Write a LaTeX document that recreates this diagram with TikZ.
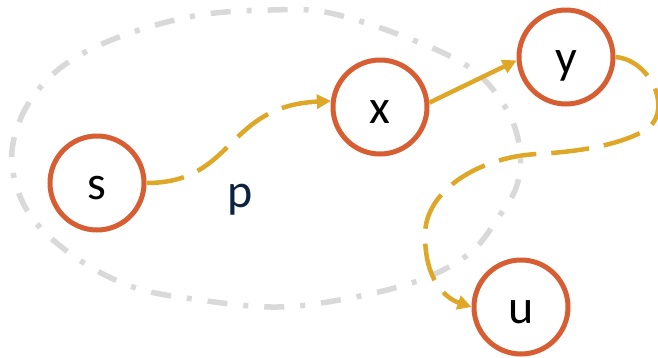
\documentclass[tikz,border=0pt]{standalone}
\usepackage{fontspec}
\setmainfont{Carlito}
\usetikzlibrary{arrows.meta}
\definecolor{vertexorange}{RGB}{214,94,50}
\definecolor{pathgold}{RGB}{222,167,40}
\definecolor{regiongray}{RGB}{217,217,217}
\definecolor{labelnavy}{RGB}{12,35,64}
\tikzset{
  vertex/.style={circle, draw=vertexorange, line width=5pt, fill=white,
    minimum size=94pt, inner sep=0pt, text height=32pt, text depth=0pt,
    font=\fontsize{48}{50}\selectfont},
  goldtip/.style={-{Triangle[length=14pt,width=14pt]}},
  pathsolid/.style={draw=pathgold, line width=4.5pt, goldtip},
  pathdashed/.style={draw=pathgold, line width=4.5pt, goldtip,
    dash pattern=on 38pt off 15pt},
  regionline/.style={draw=regiongray, line width=5.5pt,
    dash pattern=on 20pt off 16pt on 5pt off 16pt},
  pathlabel/.style={text=labelnavy, font=\fontsize{48}{50}\selectfont, inner sep=0pt}
}
\begin{document}
\begin{tikzpicture}[x=1pt,y=-1pt]
  \useasboundingbox (0,0) rectangle (658,357);

  % dash-dotted region around s and x
  \draw[regionline] plot[smooth cycle, tension=0.6] coordinates {
    (12,165) (20,120) (45,82) (80,55) (133,32) (200,15) (270,10) (330,13)
    (413,40) (473,70) (507,110) (520,150) (517,185) (500,215) (470,253)
    (420,280) (350,298) (277,307) (200,300) (133,287) (75,257) (30,215)};

  % vertices
  \node[vertex] (s) at (97,183) {s};
  \node[vertex] (x) at (380,107) {x};
  \node[vertex] (y) at (566,57) {y};
  \node[vertex] (u) at (521,307) {u};

  % path p from s to x
  \draw[pathdashed] (s.east) .. controls (235,183) and (225,106) .. (x.173);
  \node[pathlabel, anchor=base] (p) at (240,207) {p};

  % edge x -> y
  \draw[pathsolid] (x.5) -- (y.184);

  % path from y to u
  \draw[pathdashed] (y.east)
    .. controls (652,60) and (676,115) .. (642,132)
    .. controls (615,146) and (575,152) .. (537,154)
    .. controls (480,157) and (425,190) .. (425,235)
    .. controls (425,280) and (445,298) .. (u.west);
\end{tikzpicture}
\end{document}
